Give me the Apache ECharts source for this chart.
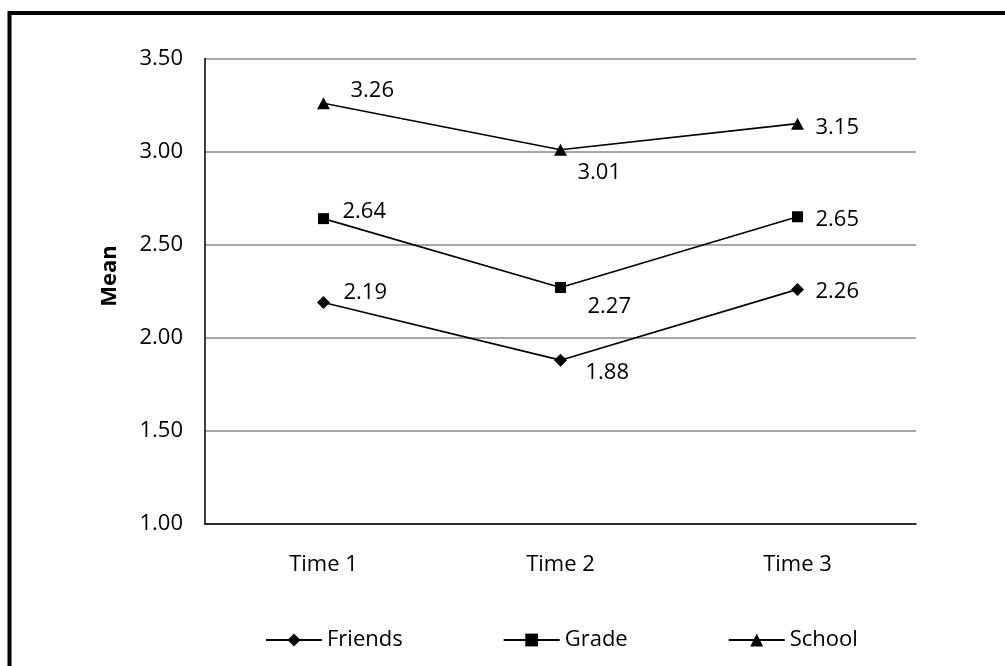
<!DOCTYPE html>
<html>
<head>
<meta charset="utf-8">
<script src="https://cdn.jsdelivr.net/npm/echarts@6/dist/echarts.min.js"></script>
<style>
html,body{margin:0;padding:0;background:#fff;}
#chart{width:1005px;height:666px;}
</style>
</head>
<body>
<div id="chart"></div>
<script>
var categories = ['Time 1', 'Time 2', 'Time 3'];
var friends = [2.19, 1.88, 2.26];
var grade = [2.64, 2.27, 2.65];
var school = [3.26, 3.01, 3.15];
var yTicks = [1.0, 1.5, 2.0, 2.5, 3.0, 3.5];
var seriesNames = ['Friends', 'Grade', 'School'];

var FONT = '"Open Sans", "DejaVu Sans", sans-serif';

// label placement styles (offsets from marker centre)
var labelOffsets = {
  Friends: [[20, -10], [25, 13], [18, 2]],
  Grade: [[19, -7], [27, 19], [18, 3]],
  School: [[27, -12], [17, 23], [18, 4]]
};

function mk(name, values, symbol, size) {
  return {
    name: name,
    type: 'line',
    data: values.map(function (v, i) {
      return {
        value: v,
        label: { offset: labelOffsets[name][i] }
      };
    }),
    symbol: symbol,
    symbolSize: size,
    showAllSymbol: true,
    lineStyle: { color: '#000', width: 1.6 },
    itemStyle: { color: '#000' },
    label: {
      show: true,
      position: 'inside',
      align: 'left',
      verticalAlign: 'middle',
      color: '#000',
      fontFamily: FONT,
      fontSize: 22,
      formatter: function (p) { return p.value.toFixed(2); }
    },
    emphasis: { disabled: true },
    animation: false
  };
}

var chart = echarts.init(document.getElementById('chart'), null, { renderer: 'canvas' });
chart.setOption({
  backgroundColor: '#fff',
  animation: false,
  grid: { left: 205, right: 89, top: 58.5, bottom: 142, containLabel: false },
  legend: {
    data: seriesNames,
    left: 260,
    top: 624,
    itemWidth: 56,
    itemHeight: 16,
    itemGap: 100,
    textStyle: { color: '#000', fontFamily: FONT, fontSize: 22 }
  },
  xAxis: {
    type: 'category',
    data: categories,
    boundaryGap: true,
    axisLine: { lineStyle: { color: '#000', width: 1.5 } },
    axisTick: { show: false },
    axisLabel: { color: '#000', fontFamily: FONT, fontSize: 22, margin: 30 }
  },
  yAxis: {
    type: 'value',
    min: yTicks[0],
    max: yTicks[yTicks.length - 1],
    interval: 0.5,
    axisLine: { show: true, lineStyle: { color: '#000', width: 1.5 } },
    axisTick: { show: false },
    splitLine: { lineStyle: { color: '#8a8a8a', width: 1.5 } },
    axisLabel: {
      color: '#000', fontFamily: FONT, fontSize: 22, margin: 22,
      formatter: function (v) { return v.toFixed(2); }
    }
  },
  graphic: [
    {
      type: 'text',
      x: 110, y: 276,
      rotation: Math.PI / 2,
      style: {
        text: 'Mean', fill: '#000', font: 'bold 22px ' + FONT,
        align: 'center', verticalAlign: 'middle'
      }
    },
    {
      type: 'polyline',
      shape: { points: [[9.5, 700], [9.5, 13], [1010, 13]] },
      style: { stroke: '#000', lineWidth: 4, fill: null }
    }
  ],
  series: [
    mk('Friends', friends, 'diamond', [13, 13]),
    mk('Grade', grade, 'rect', [11, 11]),
    mk('School', school, 'triangle', [13, 12])
  ]
});
</script>
</body>
</html>
